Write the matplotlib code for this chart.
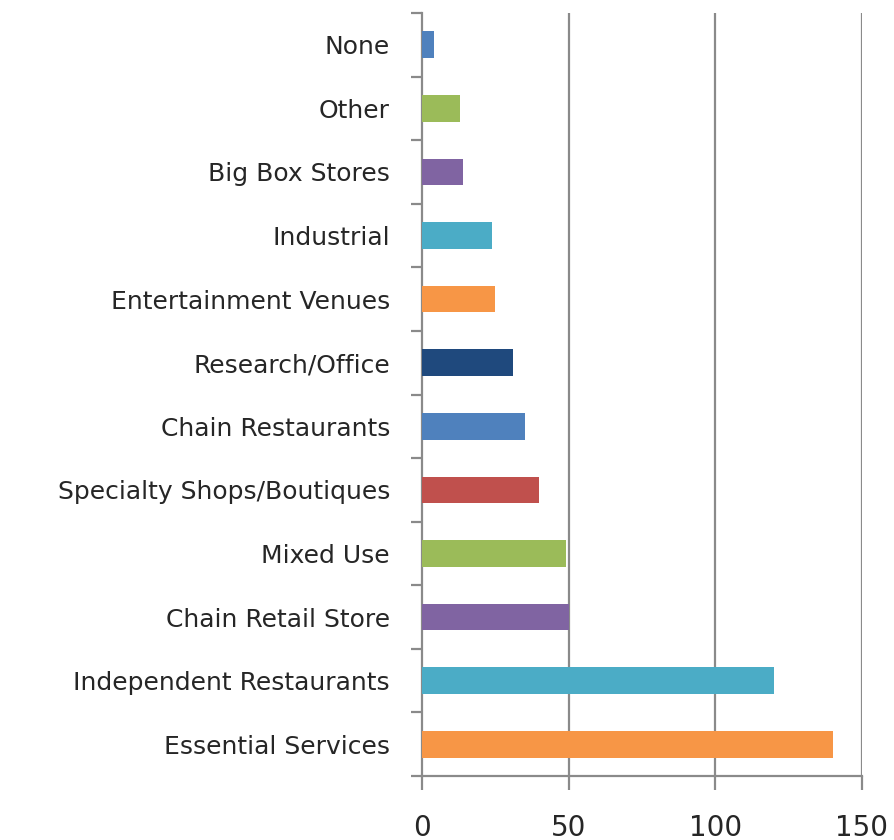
import matplotlib
matplotlib.use("Agg")
import matplotlib.pyplot as plt
import numpy as np
from matplotlib.ticker import FixedLocator

categories = ["Essential Services", "Independent Restaurants", "Chain Retail Store",
              "Mixed Use", "Specialty Shops/Boutiques", "Chain Restaurants",
              "Research/Office", "Entertainment Venues", "Industrial",
              "Big Box Stores", "Other", "None"]
values = [140, 120, 50, 49, 40, 35, 31, 25, 24, 14, 13, 4]
colors = ["#F79646", "#4BACC6", "#8064A2", "#9BBB59", "#C0504D", "#4F81BD",
          "#1F497D", "#F79646", "#4BACC6", "#8064A2", "#9BBB59", "#4F81BD"]
xticks = [0, 50, 100, 150]

plt.rcParams['font.family'] = ['DejaVu Sans']

fig = plt.figure(figsize=(8.95, 8.4), dpi=100)
ax = fig.add_axes([422/895, 1-776/840, (862-422)/895, (776-13)/840])

n = len(categories)
y = np.arange(n)
ax.barh(y, values, height=0.42, color=colors, zorder=3)

ax.set_xlim(0, 150)
ax.set_ylim(-0.5, n-0.5)

grid_c = "#8a8a8a"
for t in xticks[1:]:
    ax.axvline(t, color=grid_c, lw=1.6, zorder=1)

for s in ["top", "right"]:
    ax.spines[s].set_visible(False)
ax.spines["left"].set_color(grid_c)
ax.spines["left"].set_linewidth(1.6)
ax.spines["bottom"].set_color(grid_c)
ax.spines["bottom"].set_linewidth(1.6)

txt_c = "#262626"
ax.set_yticks(y)
ax.set_yticklabels(categories, fontsize=18, color=txt_c)
ax.tick_params(axis="y", which="major", length=0, pad=23)
ax.yaxis.set_minor_locator(FixedLocator(np.arange(-0.5, n, 1.0)))
ax.tick_params(axis="y", which="minor", length=8, width=1.6, color=grid_c, direction="out")

ax.set_xticks(xticks)
ax.set_xticklabels([str(t) for t in xticks], fontsize=20, color=txt_c)
ax.tick_params(axis="x", length=10, width=1.6, color=grid_c, direction="out", pad=17)

fig.savefig("out.png", dpi=100)
